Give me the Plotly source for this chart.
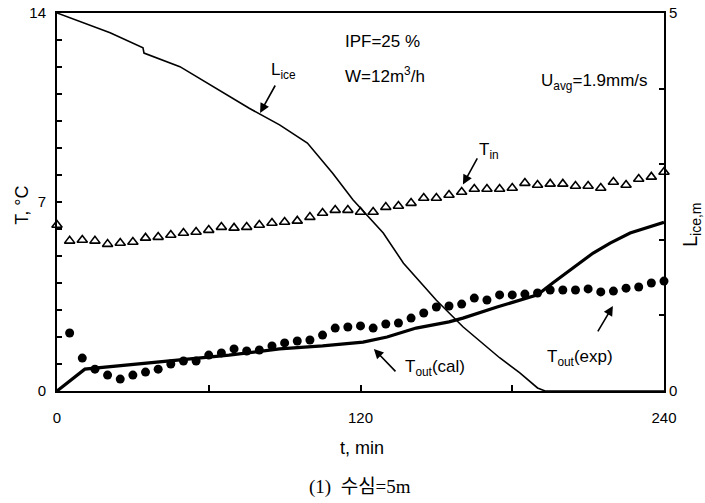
import plotly.graph_objects as go

# ---------------- data ----------------
t_markers = list(range(0, 245, 5))  # 0..240 min
T_in = [6.15, 5.56, 5.59, 5.56, 5.44, 5.48, 5.52, 5.67, 5.70, 5.78,
        5.85, 5.89, 5.96, 6.07, 6.04, 6.07, 6.15, 6.22, 6.26, 6.30,
        6.44, 6.59, 6.70, 6.70, 6.63, 6.63, 6.81, 6.85, 6.96, 7.15,
        7.15, 7.26, 7.37, 7.48, 7.48, 7.48, 7.52, 7.70, 7.63, 7.67,
        7.67, 7.59, 7.59, 7.52, 7.74, 7.63, 7.85, 7.93, 8.11]

t_exp = list(range(5, 245, 5))
T_out_exp = [2.15, 1.22, 0.81, 0.59, 0.44, 0.59, 0.70, 0.81, 1.00, 1.11,
             1.11, 1.33, 1.41, 1.56, 1.48, 1.52, 1.67, 1.78, 1.85, 1.89,
             2.07, 2.33, 2.37, 2.41, 2.33, 2.48, 2.52, 2.70, 2.89, 3.11,
             3.15, 3.22, 3.44, 3.37, 3.56, 3.56, 3.59, 3.63, 3.74, 3.74,
             3.74, 3.78, 3.67, 3.70, 3.81, 3.85, 4.00, 4.07]

t_cal = [0, 11, 68, 88, 105, 121, 130.5, 142, 155, 160.5, 174, 190, 196,
         203, 212, 218.7, 226.6, 240]
T_out_cal = [0, 0.81, 1.33, 1.56, 1.67, 1.81, 2.00, 2.33, 2.56, 2.70, 3.11,
             3.56, 4.00, 4.48, 5.11, 5.48, 5.85, 6.25]

t_ice = [0, 21, 34, 34.4, 48.6, 67, 76, 88, 99, 109, 117, 129, 137, 150,
         160.5, 175, 183, 190, 193, 240]
L_ice = [5.0, 4.74, 4.54, 4.47, 4.29, 3.92, 3.74, 3.52, 3.28, 2.88, 2.53,
         2.09, 1.69, 1.20, 0.85, 0.44, 0.24, 0.04, 0.0, 0.0]

x_tickvals = [0, 60, 120, 180, 240]
x_ticktext = ["0", "", "120", "", "240"]
y_tickvals = list(range(0, 15))
y_ticktext = ["0", "", "", "", "", "", "", "7", "", "", "", "", "", "", "14"]
y2_tickvals = [0, 1, 2, 3, 4, 5]
y2_ticktext = ["0", "", "", "", "", "5"]

FONT = "Liberation Sans, Arial, Helvetica, sans-serif"
SERIF_KR = "Liberation Serif, Noto Sans CJK KR, serif"

fig = go.Figure()

fig.add_trace(go.Scatter(
    x=t_markers, y=T_in, mode="markers", name="T_in",
    marker=dict(symbol="triangle-up-open", size=9, color="black",
                line=dict(width=1.6, color="black")),
    cliponaxis=False))

fig.add_trace(go.Scatter(
    x=t_exp, y=T_out_exp, mode="markers", name="T_out(exp)",
    marker=dict(symbol="circle", size=9, color="black"),
    cliponaxis=False))

fig.add_trace(go.Scatter(
    x=t_cal, y=T_out_cal, mode="lines", name="T_out(cal)",
    line=dict(color="black", width=3.2)))

fig.add_trace(go.Scatter(
    x=t_ice, y=L_ice, mode="lines", name="L_ice", yaxis="y2",
    line=dict(color="black", width=1.6)))

fig.update_layout(
    width=705, height=503,
    margin=dict(l=57, r=41, t=13, b=112),
    paper_bgcolor="white", plot_bgcolor="white",
    showlegend=False,
    font=dict(family=FONT, size=15, color="black"),
    xaxis=dict(range=[0, 240], tickvals=x_tickvals, ticktext=x_ticktext,
               ticks="inside", ticklen=6, tickwidth=1.5, tickcolor="black",
               showline=True, linecolor="black", linewidth=2, mirror=True,
               showgrid=False, zeroline=False, ticklabelstandoff=12,
               automargin=False, tickfont=dict(size=15)),
    yaxis=dict(range=[0, 14], tickvals=y_tickvals, ticktext=y_ticktext,
               ticks="inside", ticklen=5, tickwidth=1.5, tickcolor="black",
               showline=True, linecolor="black", linewidth=2,
               showgrid=False, zeroline=False, ticklabelstandoff=6,
               automargin=False, ticklabeloverflow="allow",
               tickfont=dict(size=15)),
    yaxis2=dict(range=[0, 5], tickvals=y2_tickvals, ticktext=y2_ticktext,
                overlaying="y", side="right",
                ticks="inside", ticklen=5, tickwidth=1.5, tickcolor="black",
                showline=True, linecolor="black", linewidth=2,
                showgrid=False, zeroline=False, automargin=False,
                ticklabeloverflow="allow", tickfont=dict(size=15)),
)

txt = dict(showarrow=False, xanchor="center", yanchor="middle",
           font=dict(family=FONT, size=17, color="black"))

# Text labels inside the plot (data coords, left T axis)
fig.add_annotation(x=128.5, y=12.93, xref="x", yref="y", text="IPF=25 %", **txt)
fig.add_annotation(x=129.7, y=11.70, xref="x", yref="y",
                   text="W=12m<sup>3</sup>/h", **txt)
fig.add_annotation(x=212.7, y=11.45, xref="x", yref="y",
                   text="U<sub>avg</sub>=1.9mm/s", **txt)
fig.add_annotation(x=89.5, y=11.85, xref="x", yref="y",
                   text="L<sub>ice</sub>", **txt)
fig.add_annotation(x=171.0, y=8.9, xref="x", yref="y",
                   text="T<sub>in</sub>", **txt)
fig.add_annotation(x=149.5, y=0.85, xref="x", yref="y",
                   text="T<sub>out</sub>(cal)", **txt)
fig.add_annotation(x=206.8, y=1.22, xref="x", yref="y",
                   text="T<sub>out</sub>(exp)", **txt)

arr = dict(text="", showarrow=True, arrowhead=2, arrowsize=1.2,
           arrowwidth=1.6, arrowcolor="black", xref="x", yref="y",
           axref="x", ayref="y")
fig.add_annotation(x=80.3, y=10.3, ax=86.6, ay=11.37, **arr)
fig.add_annotation(x=160.5, y=7.65, ax=166.5, ay=8.67, **arr)
fig.add_annotation(x=125.3, y=1.56, ax=134.4, ay=0.67, **arr)
fig.add_annotation(x=219.8, y=3.15, ax=213.5, ay=2.15, **arr)

# Axis titles and caption
ctr = dict(showarrow=False, xanchor="center", yanchor="middle",
           xref="paper", yref="paper")
fig.add_annotation(x=-0.058, y=0.492, text="T, °C", textangle=-90,
                   font=dict(family=FONT, size=18, color="black"), **ctr)
fig.add_annotation(x=1.0445, y=0.439, text="L<sub>ice,m</sub>",
                   textangle=-90,
                   font=dict(family=FONT, size=20, color="black"), **ctr)
fig.add_annotation(x=0.5025, y=-0.151, text="t, min",
                   font=dict(family=FONT, size=18, color="black"), **ctr)
fig.add_annotation(x=0.499, y=-0.254, text="(1)  수심=5m",
                   font=dict(family=SERIF_KR, size=19, color="black"), **ctr)

# remove the browser's default 8px body margin so the figure sits at (0,0)
fig.write_html("out.html",
               config={"displayModeBar": False},
               post_script="document.body.style.margin='0';")
